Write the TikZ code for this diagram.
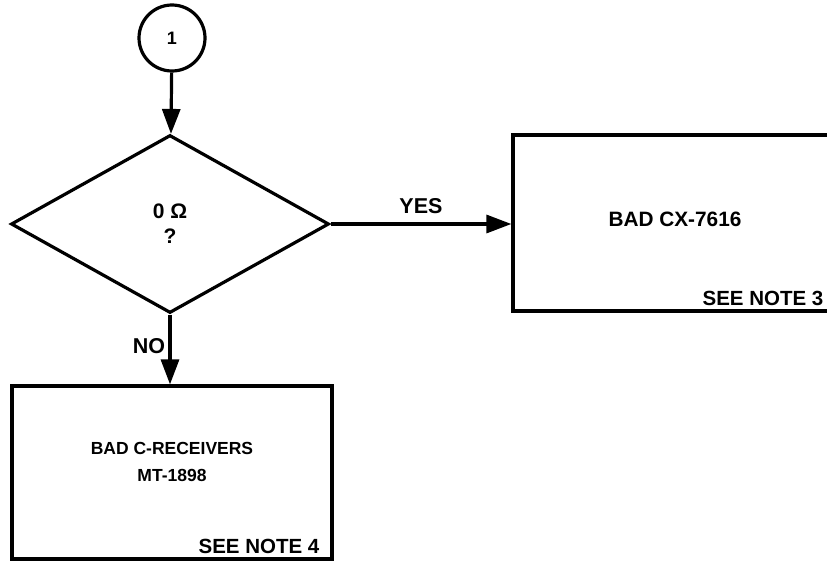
\documentclass[tikz,border=0pt]{standalone}
\usepackage{fontspec}
\setsansfont{Liberation Sans}
\usetikzlibrary{arrows.meta,shapes.geometric,positioning}

\begin{document}
\begin{tikzpicture}[
    x=1pt, y=-1pt,
    font=\sffamily\bfseries,
    connector/.style={
        circle,
        draw,
        line width=3.2pt,
        minimum size=66pt,
        inner sep=0pt,
        font=\sffamily\bfseries\fontsize{18}{20}\selectfont
    },
    decision/.style={
        diamond,
        draw,
        line width=3.2pt,
        minimum width=318pt,
        minimum height=178pt,
        inner sep=0pt,
        align=center,
        font=\sffamily\bfseries\fontsize{21}{25}\selectfont
    },
    result/.style={
        rectangle,
        draw,
        line width=3.2pt,
        inner sep=0pt
    },
    result text/.style={
        align=center,
        inner sep=0pt
    },
    note/.style={
        anchor=east,
        inner sep=0pt,
        font=\sffamily\bfseries\fontsize{20.5}{24}\selectfont
    },
    flow/.style={
        -{Triangle[length=25pt,width=18pt]},
        line width=3.2pt
    },
    branch label/.style={
        font=\sffamily\bfseries\fontsize{21.5}{24}\selectfont
    }
]
    \useasboundingbox (0,0) rectangle (827,562);
    \clip (0,0) rectangle (827,562);

    \node[connector] (start) at (172,38) {1};
    \node[decision] (ohms) at (170,224) {0 Ω\\?};

    % outcomes
    \node[result, minimum width=324pt, minimum height=176pt] (badcx) at (675,223) {};
    \node[result text, font=\sffamily\bfseries\fontsize{20.8}{24}\selectfont]
        (badcxtext) at ([yshift=4pt]badcx.center) {BAD CX-7616};
    \node[note] (note3) at ([shift={(-15pt,14pt)}]badcx.south east) {SEE NOTE 3};

    \node[result, minimum width=320pt, minimum height=173pt] (badrx) at (172,472.5) {};
    \node[result text, font=\sffamily\bfseries\fontsize{17.5}{27}\selectfont]
        (badrxtext) at ([yshift=11pt]badrx.center) {BAD C-RECEIVERS\\MT-1898};
    \node[note] (note4) at ([shift={(-14pt,14pt)}]badrx.south east) {SEE NOTE 4};

    \draw[flow] (start) -- (ohms);
    \draw[flow] (ohms.east) -- node[branch label, above=5pt] {YES} (badcx.west |- ohms.east);
    \draw[flow] (ohms.south) -- node[branch label, left, pos=0.45] {NO} (ohms.south |- badrx.north);
\end{tikzpicture}
\end{document}
